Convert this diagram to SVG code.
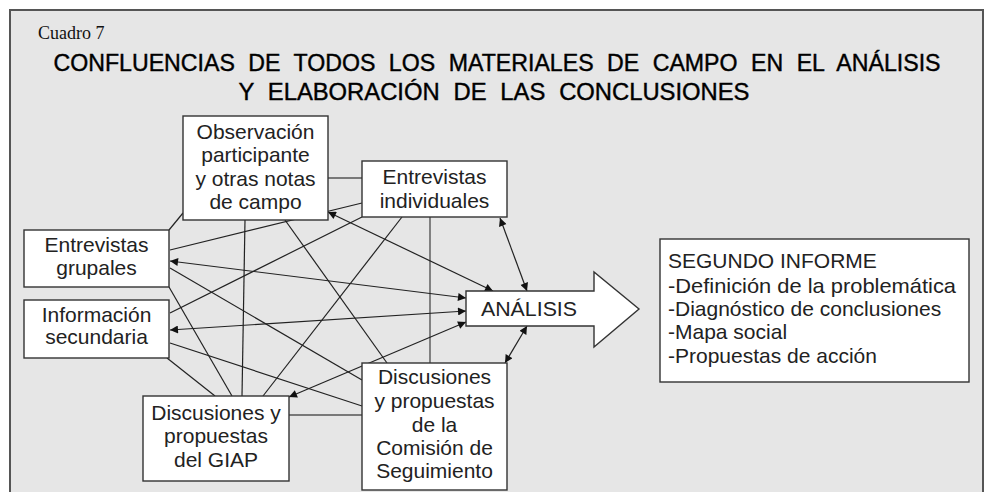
<svg xmlns="http://www.w3.org/2000/svg" width="988" height="492" viewBox="0 0 988 492">
<style>
.box{fill:#fff;stroke:#333;stroke-width:1.4}
.t{font-family:"Liberation Sans",Arial,sans-serif;font-size:21px;fill:#222;text-anchor:middle}
.tl{font-family:"Liberation Sans",Arial,sans-serif;font-size:21px;fill:#222}
.ttl{font-family:"Liberation Sans",Arial,sans-serif;font-size:23px;fill:#000;stroke:#000;stroke-width:0.4;text-anchor:middle}
.ln{stroke:#222;stroke-width:1.2;fill:none}
.lg{stroke:#555;stroke-width:1.4;fill:none}
.ar{stroke:#222;stroke-width:1.2;fill:none;marker-start:url(#ah);marker-end:url(#ah)}
</style>
<defs>
<marker id="ah" viewBox="0 0 10 10" refX="10" refY="5" markerWidth="12" markerHeight="8" markerUnits="userSpaceOnUse" orient="auto-start-reverse">
<path d="M0,0 L10,5 L0,10 z" fill="#111"/>
</marker>
</defs>
<rect x="10" y="10" width="973" height="500" fill="#e6e6e6" stroke="#555" stroke-width="2"/>
<text x="38" y="39" font-family="'Liberation Serif','Times New Roman',serif" font-size="18" fill="#111">Cuadro 7</text>
<text class="ttl" x="497" y="71" textLength="887" lengthAdjust="spacingAndGlyphs" word-spacing="7">CONFLUENCIAS DE TODOS LOS MATERIALES DE CAMPO EN EL ANÁLISIS</text>
<text class="ttl" x="494" y="100" textLength="511" lengthAdjust="spacingAndGlyphs" word-spacing="7">Y ELABORACIÓN DE LAS CONCLUSIONES</text>
<g id="connectors">
<line class="lg" x1="328" y1="178" x2="362" y2="178"/>
<line class="ln" x1="183" y1="213" x2="169" y2="230"/>
<line class="ln" x1="170" y1="250" x2="362" y2="203"/>
<line class="ln" x1="362" y1="217" x2="170" y2="313"/>
<line class="ln" x1="402" y1="217" x2="263" y2="396"/>
<line class="lg" x1="430" y1="217" x2="430" y2="363"/>
<line class="ln" x1="245" y1="220" x2="242" y2="396"/>
<line class="ln" x1="285" y1="220" x2="387" y2="363"/>
<line class="ln" x1="170" y1="268" x2="362" y2="380"/>
<line class="ln" x1="169" y1="287" x2="232" y2="396"/>
<line class="ln" x1="170" y1="343" x2="362" y2="406"/>
<line class="ln" x1="167" y1="358" x2="215" y2="396"/>
<line class="lg" x1="289" y1="415" x2="362" y2="415"/>
<line class="ar" x1="328" y1="212" x2="493" y2="291"/>
<line class="ar" x1="170" y1="261" x2="466" y2="298"/>
<line class="ar" x1="170" y1="330" x2="466" y2="311"/>
<line class="ar" x1="289" y1="397" x2="466" y2="322"/>
<line class="ar" x1="500" y1="218" x2="527" y2="291"/>
<line class="ar" x1="505" y1="363" x2="527" y2="326"/>
</g>
<g id="observacion">
<rect class="box" x="183" y="116" width="145" height="104"/>
<text class="t" x="255.5" y="139">Observación</text>
<text class="t" x="255.5" y="162">participante</text>
<text class="t" x="255.5" y="186">y otras notas</text>
<text class="t" x="255.5" y="209">de campo</text>
</g>
<g id="individuales">
<rect class="box" x="362" y="161" width="145" height="56"/>
<text class="t" x="434.5" y="184">Entrevistas</text>
<text class="t" x="434.5" y="208">individuales</text>
</g>
<g id="grupales">
<rect class="box" x="24" y="230" width="145" height="57"/>
<text class="t" x="96.5" y="252">Entrevistas</text>
<text class="t" x="96.5" y="275">grupales</text>
</g>
<g id="secundaria">
<rect class="box" x="24" y="300" width="145" height="58"/>
<text class="t" x="96.5" y="322">Información</text>
<text class="t" x="96.5" y="344">secundaria</text>
</g>
<g id="giap">
<rect class="box" x="143" y="396" width="146" height="85"/>
<text class="t" x="216" y="420">Discusiones y</text>
<text class="t" x="216" y="443">propuestas</text>
<text class="t" x="216" y="467">del GIAP</text>
</g>
<g id="comision">
<rect class="box" x="362" y="363" width="145" height="127"/>
<text class="t" x="434.5" y="384">Discusiones</text>
<text class="t" x="434.5" y="408">y propuestas</text>
<text class="t" x="434.5" y="432">de la</text>
<text class="t" x="434.5" y="455">Comisión de</text>
<text class="t" x="434.5" y="478">Seguimiento</text>
</g>
<g id="analisis">
<polygon class="box" points="466,291 594,291 594,272 639,309 594,347 594,326 466,326"/>
<text class="tl" x="481" y="316" textLength="96" lengthAdjust="spacingAndGlyphs">ANÁLISIS</text>
</g>
<g id="segundo">
<rect class="box" x="660" y="239" width="309" height="143"/>
<text class="tl" x="668" y="268">SEGUNDO INFORME</text>
<text class="tl" x="668" y="293" textLength="288" lengthAdjust="spacingAndGlyphs">-Definición de la problemática</text>
<text class="tl" x="668" y="316">-Diagnóstico de conclusiones</text>
<text class="tl" x="668" y="339">-Mapa social</text>
<text class="tl" x="668" y="363">-Propuestas de acción</text>
</g>
</svg>
